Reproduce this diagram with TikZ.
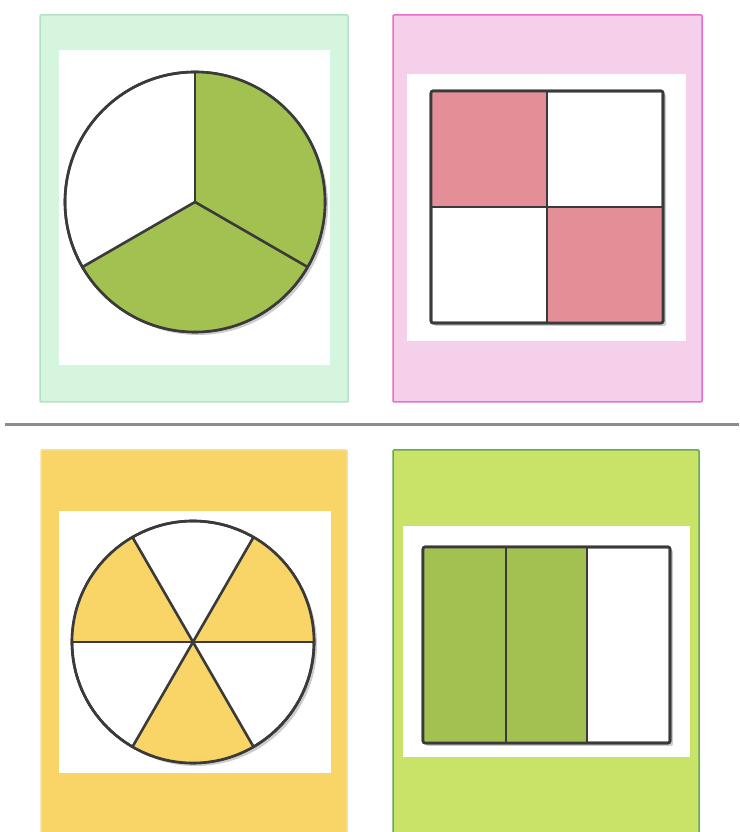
\documentclass[tikz,border=0pt]{standalone}
\usetikzlibrary{shadows}
\definecolor{mint}{RGB}{214,245,223}
\definecolor{mintline}{RGB}{178,228,194}
\definecolor{rose}{RGB}{246,207,234}
\definecolor{roseline}{RGB}{232,110,208}
\definecolor{blush}{RGB}{228,142,152}
\definecolor{sun}{RGB}{248,213,102}
\definecolor{sunline}{RGB}{250,222,150}
\definecolor{lime}{RGB}{201,226,104}
\definecolor{limeline}{RGB}{100,172,84}
\definecolor{olive}{RGB}{163,193,80}
\definecolor{ink}{RGB}{58,58,58}
\tikzset{
  card/.style={draw=#1line,fill=#1,line width=1.5pt,rounded corners=1pt},
  pane/.style={fill=white},
  part/.style={draw=ink,line width=2.6pt,line join=round},
  whole/.style={part,fill=white,drop shadow={opacity=0.4,shadow xshift=3pt,shadow yshift=-3pt}},
  rule/.style={draw=black!45,line width=3pt}
}
\begin{document}
\begin{tikzpicture}[x=1pt,y=1pt]
  \clip (0,0) rectangle (739,832);
  \fill[white] (0,0) rectangle (739,832);
  % one third left blank
  \draw[card=mint] (40,430) rectangle (348,817);
  \fill[pane] (59,467) rectangle (330,782);
  \coordinate (thirds) at (195,630);
  \draw[whole] (thirds) circle (130pt);
  \foreach \a in {-30,210} \fill[olive] (thirds) -- ++(\a:130pt) arc (\a:\a+120:130pt) -- cycle;
  \draw[part] (thirds) circle (130pt);
  \foreach \a in {90,210,330} \draw[part] (thirds) -- ++(\a:130pt);
  % quarters
  \draw[card=rose] (393,430) rectangle (702,817);
  \fill[pane] (407,491) rectangle (686,758);
  \draw[whole,rounded corners=2pt] (431,509) rectangle (663,741);
  \fill[blush] (431,625) rectangle (547,741);
  \fill[blush] (547,509) rectangle (663,625);
  \draw[part,rounded corners=2pt] (431,509) rectangle (663,741);
  \draw[part] (547,509) -- (547,741) (431,625) -- (663,625);
  % separator
  \coordinate (ruleL) at (5,407);
  \coordinate (ruleR) at (739,407);
  \draw[rule] (ruleL) -- (ruleR);
  % sixths
  \draw[card=sun] (41,-5) rectangle (347,382);
  \fill[pane] (59,59) rectangle (331,321);
  \coordinate (sixths) at (193,190);
  \draw[whole] (sixths) circle (121pt);
  \foreach \a in {0,120,240} \fill[sun] (sixths) -- ++(\a:121pt) arc (\a:\a+60:121pt) -- cycle;
  \draw[part] (sixths) circle (121pt);
  \foreach \a in {0,60,...,300} \draw[part] (sixths) -- ++(\a:121pt);
  % two of three strips
  \draw[card=lime] (393,-5) rectangle (699,382);
  \fill[pane] (403,75) rectangle (690,306);
  \draw[whole,rounded corners=2pt] (423,89) rectangle (670,285);
  \fill[olive] (423,89) rectangle (587,285);
  \draw[part,rounded corners=2pt] (423,89) rectangle (670,285);
  \draw[part] (506,89) -- (506,285) (587,89) -- (587,285);
\end{tikzpicture}
\end{document}
